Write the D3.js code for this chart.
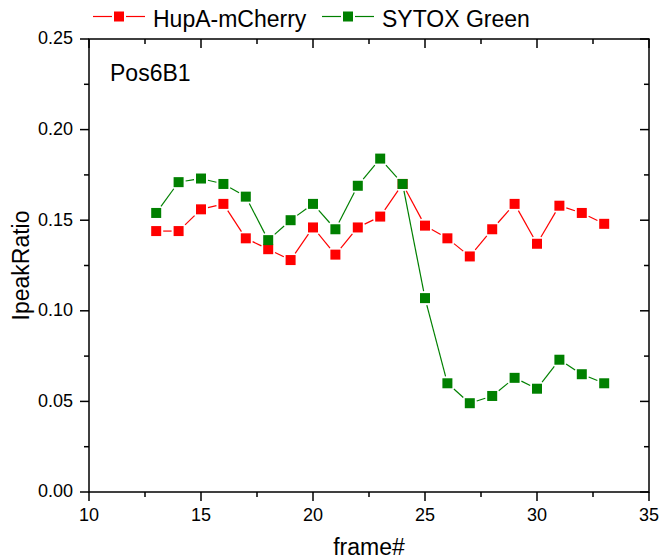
<!DOCTYPE html>
<html>
<head>
<meta charset="utf-8">
<script src="https://cdn.jsdelivr.net/npm/d3@7"></script>
<style>
  html, body { margin: 0; padding: 0; background: #fff; }
  svg { display: block; font-family: "Liberation Sans", Arial, sans-serif; }
</style>
</head>
<body>
<svg id="chart" width="663" height="560"></svg>
<script>
const frames = [13,14,15,16,17,18,19,20,21,22,23,24,25,26,27,28,29,30,31,32,33];
const hupA  = [0.144,0.144,0.156,0.159,0.140,0.134,0.128,0.146,0.131,0.146,0.152,0.170,0.147,0.140,0.130,0.145,0.159,0.137,0.158,0.154,0.148];
const sytox = [0.154,0.171,0.173,0.170,0.163,0.139,0.150,0.159,0.145,0.169,0.184,0.170,0.107,0.060,0.049,0.053,0.063,0.057,0.073,0.065,0.060];
const seriesNames = ["HupA-mCherry", "SYTOX Green"];
const seriesColors = ["#ff0000", "#008000"];
const xTicks = [10,15,20,25,30,35];
const xMinor = [12.5,17.5,22.5,27.5,32.5];
const yTicks = [0.00,0.05,0.10,0.15,0.20,0.25];
const yMinor = [0.025,0.075,0.125,0.175,0.225];
const xLabel = "frame#";
const yLabel = "IpeakRatio";
const panelLabel = "Pos6B1";

const svg = d3.select("#chart");
const L = 89, R = 649, T = 39, B = 492;
const x = d3.scaleLinear().domain([10,35]).range([L,R]);
const y = d3.scaleLinear().domain([0,0.25]).range([B,T]);
const MS = 10, GAP = 2;

// axes
const axG = svg.append("g").attr("stroke","#000").attr("stroke-width",1.5);
axG.append("rect").attr("x",L).attr("y",T).attr("width",R-L).attr("height",B-T).attr("fill","none");

// bottom (outward) & top (inward)
xTicks.forEach(v=>{
  axG.append("line").attr("x1",x(v)).attr("x2",x(v)).attr("y1",B).attr("y2",B+9);
  axG.append("line").attr("x1",x(v)).attr("x2",x(v)).attr("y1",T).attr("y2",T+9);
});
xMinor.forEach(v=>{
  axG.append("line").attr("x1",x(v)).attr("x2",x(v)).attr("y1",B).attr("y2",B+5);
  axG.append("line").attr("x1",x(v)).attr("x2",x(v)).attr("y1",T).attr("y2",T+5);
});
// left (outward) & right (inward)
yTicks.forEach(v=>{
  axG.append("line").attr("y1",y(v)).attr("y2",y(v)).attr("x1",L).attr("x2",L-9);
  axG.append("line").attr("y1",y(v)).attr("y2",y(v)).attr("x1",R).attr("x2",R-9);
});
yMinor.forEach(v=>{
  axG.append("line").attr("y1",y(v)).attr("y2",y(v)).attr("x1",L).attr("x2",L-5);
  axG.append("line").attr("y1",y(v)).attr("y2",y(v)).attr("x1",R).attr("x2",R-5);
});

// tick labels
svg.append("g").selectAll("text").data(xTicks).join("text")
  .attr("x",d=>x(d)).attr("y",521).attr("text-anchor","middle")
  .attr("font-size",18).attr("fill","#000").text(d=>d);
svg.append("g").selectAll("text").data(yTicks).join("text")
  .attr("x",73).attr("y",d=>y(d)).attr("dy","0.3em").attr("text-anchor","end")
  .attr("font-size",18).attr("fill","#000").text(d=>d.toFixed(2));

// axis titles
svg.append("text").attr("x",(L+R)/2).attr("y",555).attr("text-anchor","middle")
  .attr("font-size",23).attr("fill","#000").text(xLabel);
svg.append("text").attr("transform",`translate(29,${(T+B)/2}) rotate(-90)`)
  .attr("text-anchor","middle").attr("font-size",23).attr("fill","#000").text(yLabel);
svg.append("text").attr("x",110).attr("y",81).attr("font-size",23).attr("fill","#000").text(panelLabel);

// gapped line segments
function trimmedSegs(pts){
  const segs=[];
  for(let i=0;i<pts.length-1;i++){
    const [x1,y1]=pts[i],[x2,y2]=pts[i+1];
    const dx=x2-x1, dy=y2-y1, len=Math.hypot(dx,dy);
    const ux=dx/len, uy=dy/len;
    const t=(MS/2)/Math.max(Math.abs(ux),Math.abs(uy))+GAP;
    if(len>2*t) segs.push([x1+ux*t,y1+uy*t,x2-ux*t,y2-uy*t]);
  }
  return segs;
}

const allSeries=[hupA,sytox];
allSeries.forEach((vals,si)=>{
  const pts=frames.map((f,i)=>[x(f),y(vals[i])]);
  const g=svg.append("g");
  g.selectAll("line").data(trimmedSegs(pts)).join("line")
    .attr("x1",d=>d[0]).attr("y1",d=>d[1]).attr("x2",d=>d[2]).attr("y2",d=>d[3])
    .attr("stroke",seriesColors[si]).attr("stroke-width",1.2);
  g.selectAll("rect").data(pts).join("rect")
    .attr("x",d=>d[0]-MS/2).attr("y",d=>d[1]-MS/2).attr("width",MS).attr("height",MS)
    .attr("fill",seriesColors[si]);
});

// legend
const legX=[93,322], legY=16.5;
seriesNames.forEach((name,i)=>{
  const g=svg.append("g");
  const x0=legX[i], cx=x0+26;
  g.append("line").attr("x1",x0).attr("x2",cx-MS/2-2).attr("y1",legY).attr("y2",legY)
    .attr("stroke",seriesColors[i]).attr("stroke-width",1.2);
  g.append("line").attr("x1",cx+MS/2+2).attr("x2",x0+52).attr("y1",legY).attr("y2",legY)
    .attr("stroke",seriesColors[i]).attr("stroke-width",1.2);
  g.append("rect").attr("x",cx-MS/2).attr("y",legY-MS/2).attr("width",MS).attr("height",MS)
    .attr("fill",seriesColors[i]);
  g.append("text").attr("x",x0+60).attr("y",26.5).attr("font-size",23).attr("fill","#000").text(name);
});
</script>
</body>
</html>
